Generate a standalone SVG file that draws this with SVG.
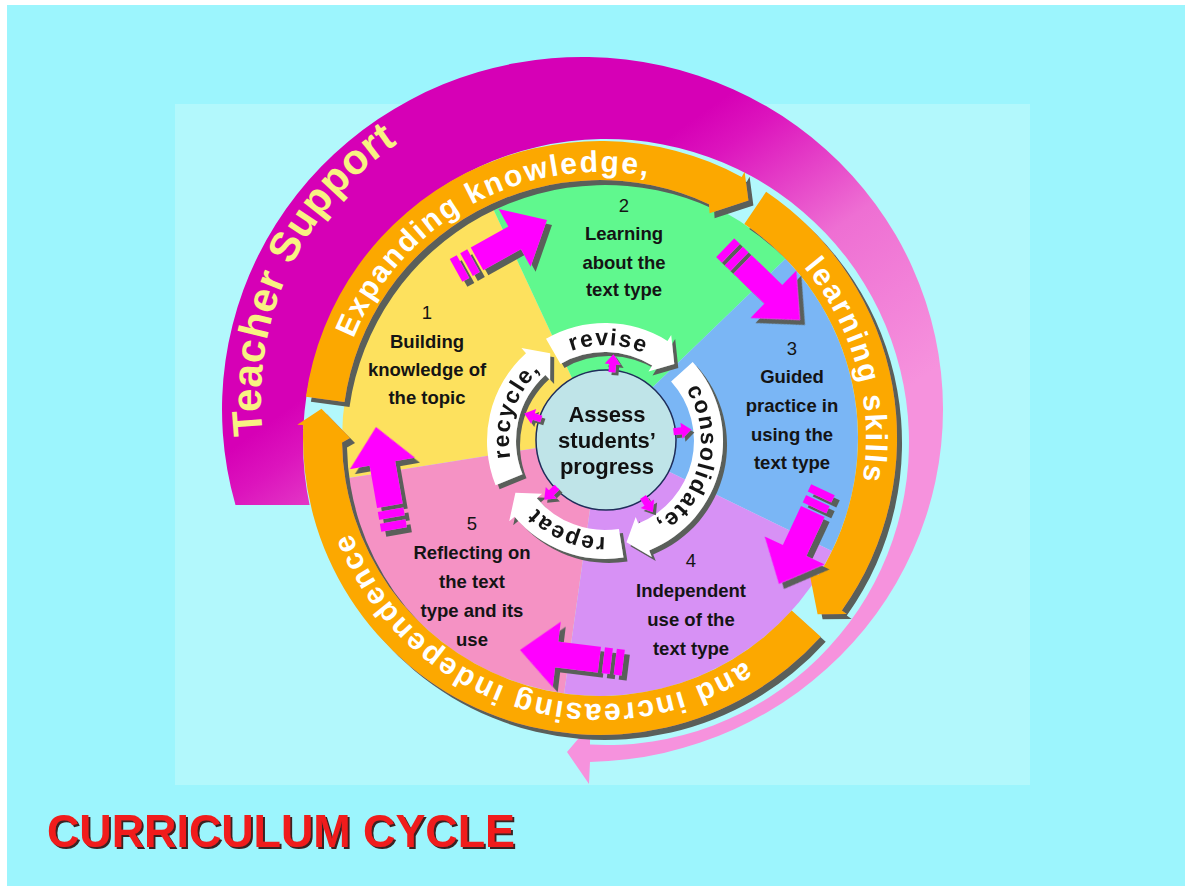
<svg xmlns="http://www.w3.org/2000/svg" width="1185" height="886" viewBox="0 0 1185 886">
  <defs>
    <style>
      .lbl{font-family:"Liberation Sans",Arial,sans-serif;font-weight:bold;font-size:18.5px;fill:#141414;text-anchor:middle}
      .num{font-weight:normal}
      .ring-txt{font-family:"Liberation Sans",Arial,sans-serif;font-weight:bold;font-size:30px;letter-spacing:2px;fill:#ffffff}
      .rev-txt{font-family:"Liberation Sans",Arial,sans-serif;font-weight:bold;font-size:23px;letter-spacing:1.5px;fill:#151515}
      .ctr-txt{font-family:"Liberation Sans",Arial,sans-serif;font-weight:bold;font-size:22px;fill:#111;text-anchor:middle}
      .orange{fill:#fca800}
      .mag{fill:#ff00ff}
      .white{fill:#ffffff}
    </style>
    <linearGradient id="tsGrad" gradientUnits="userSpaceOnUse" x1="720" y1="100" x2="920" y2="380">
      <stop offset="0" stop-color="#d600b6"/>
      <stop offset="0.12" stop-color="#dc14bd"/>
      <stop offset="0.5" stop-color="#ee6fd3"/>
      <stop offset="1" stop-color="#f692dd"/>
    </linearGradient>
    <filter id="sh5" x="-5%" y="-5%" width="115%" height="115%">
      <feFlood flood-color="#5a5f5a"/>
      <feComposite in2="SourceAlpha" operator="in"/>
      <feOffset dx="5" dy="5" result="s"/>
      <feMerge><feMergeNode in="s"/><feMergeNode in="SourceGraphic"/></feMerge>
    </filter>
    <filter id="sh4" x="-5%" y="-5%" width="115%" height="115%">
      <feFlood flood-color="#5a5f5a"/>
      <feComposite in2="SourceAlpha" operator="in"/>
      <feOffset dx="4" dy="4" result="s"/>
      <feMerge><feMergeNode in="s"/><feMergeNode in="SourceGraphic"/></feMerge>
    </filter>
    <filter id="sh3" x="-10%" y="-10%" width="125%" height="125%">
      <feFlood flood-color="#5a5f5a"/>
      <feComposite in2="SourceAlpha" operator="in"/>
      <feOffset dx="3" dy="3" result="s"/>
      <feMerge><feMergeNode in="s"/><feMergeNode in="SourceGraphic"/></feMerge>
    </filter>
    <filter id="titleSh" x="-5%" y="-20%" width="110%" height="150%">
      <feFlood flood-color="#3a2222"/>
      <feComposite in2="SourceAlpha" operator="in"/>
      <feOffset dx="2" dy="2" result="s"/>
      <feMerge><feMergeNode in="s"/><feMergeNode in="SourceGraphic"/></feMerge>
    </filter>
    <!-- big stage-to-stage arrow, pointing along +x, tip at origin -->
    <g id="bigArrow">
      <rect x="-104" y="-13" width="8" height="26"/>
      <rect x="-92" y="-13" width="8" height="26"/>
      <path d="M-80,-13 H-37 V-33 L0,0 L-37,33 V13 H-80 Z"/>
    </g>
    <!-- small outward arrow from the assessment hub -->
    <path id="tick" d="M0,-3.5 H8 V-8 L18,0 L8,8 V3.5 H0 Z"/>
    <!-- text baselines -->
    <path id="pT" d="M263.0,435.0 A309,309 0 0 1 464.3,109.6"/>
    <path id="pE" d="M353.4,338.4 A266,266 0 0 1 733.0,207.6"/>
    <path id="pL" d="M803.8,267.0 A266,266 0 0 1 850.0,529.0"/>
    <path id="pI" d="M744.9,661.1 A266,266 0 0 1 338.0,484.2"/>
    <path id="tR" d="M523.6,390.1 A96,96 0 0 1 689.8,395.9"/>
    <path id="tC" d="M670.5,370.8 A96,96 0 0 1 633.1,532.8"/>
    <path id="tP" d="M662.8,517.7 A96,96 0 0 1 509.7,452.7"/>
    <path id="tY" d="M532.5,504.0 A96,96 0 0 1 586.7,346.8"/>
  </defs>

  <!-- backdrop -->
  <rect width="1185" height="886" fill="#ffffff"/>
  <rect x="7" y="5" width="1178" height="881" fill="#9cf5fd"/>
  <rect x="175" y="104" width="855" height="681" fill="#b2f8fc"/>

  <!-- outer sweeping support arrow -->
  <g id="teacher-support">
    <path fill="url(#tsGrad)" d="M235.5,505 A360.5,352.5 0 1 1 590,761.9 L589,784 L567,752 L590,725 L590,744.6 A303,303 0 1 0 309.6,505 Z"/>
    <text font-family="'Comic Sans MS','Liberation Sans',sans-serif" font-size="42" font-weight="bold" fill="#f8f282" letter-spacing="0.5"><textPath href="#pT">Teacher Support</textPath></text>
  </g>

  <!-- the five stages -->
  <g id="stage-1">
    <path d="M600,438 L345.2,478.4 A258,258 0 0 1 491.0,204.2 Z" fill="#fde15e"/>
    <text class="lbl num" x="427" y="319">1</text>
    <text class="lbl" x="427" y="348">Building</text>
    <text class="lbl" x="427" y="376">knowledge of</text>
    <text class="lbl" x="427" y="404">the topic</text>
  </g>
  <g id="stage-2">
    <path d="M600,438 L491.0,204.2 A258,258 0 0 1 785.6,258.8 Z" fill="#60f88e"/>
    <text class="lbl num" x="624" y="212">2</text>
    <text class="lbl" x="624" y="240">Learning</text>
    <text class="lbl" x="624" y="269">about the</text>
    <text class="lbl" x="624" y="296">text type</text>
  </g>
  <g id="stage-3">
    <path d="M600,438 L785.6,258.8 A258,258 0 0 1 831.9,551.1 Z" fill="#7ab6f5"/>
    <text class="lbl num" x="792" y="355">3</text>
    <text class="lbl" x="792" y="383">Guided</text>
    <text class="lbl" x="792" y="412">practice in</text>
    <text class="lbl" x="792" y="441">using the</text>
    <text class="lbl" x="792" y="469">text type</text>
  </g>
  <g id="stage-4">
    <path d="M600,438 L831.9,551.1 A258,258 0 0 1 564.1,693.5 Z" fill="#d791f5"/>
    <text class="lbl num" x="691" y="567">4</text>
    <text class="lbl" x="691" y="597">Independent</text>
    <text class="lbl" x="691" y="626">use of the</text>
    <text class="lbl" x="691" y="655">text type</text>
  </g>
  <g id="stage-5">
    <path d="M600,438 L564.1,693.5 A258,258 0 0 1 345.2,478.4 Z" fill="#f592c4"/>
    <text class="lbl num" x="472" y="530">5</text>
    <text class="lbl" x="472" y="559">Reflecting on</text>
    <text class="lbl" x="472" y="588">the text</text>
    <text class="lbl" x="472" y="617">type and its</text>
    <text class="lbl" x="472" y="646">use</text>
  </g>

  <!-- orange skills ring -->
  <g id="skills-ring">
    <g class="orange" filter="url(#sh5)">
      <path d="M305.9,396.7 A297,297 0 0 1 741.7,177.0 L744.6,171.7 L748.4,200.5 L709.6,213.3 L709.0,204.2 A258,258 0 0 0 344.5,402.1 Z"/>
      <path d="M766.1,191.8 A297,297 0 0 1 841.8,610.5 L846.7,614.0 L817.6,614.2 L809.7,574.2 L818.8,574.7 A258,258 0 0 0 744.3,224.1 Z"/>
      <path d="M820.7,636.7 A297,297 0 0 1 303.3,425.0 L297.3,424.8 L321.5,408.7 L350,438 L342.0,442.5 A258,258 0 0 0 791.7,610.6 Z"/>
    </g>
    <text class="ring-txt"><textPath href="#pE">Expanding knowledge,</textPath></text>
    <text class="ring-txt"><textPath href="#pL">learning skills</textPath></text>
    <text class="ring-txt"><textPath href="#pI">and increasing independence</textPath></text>
  </g>

  <!-- stage-to-stage arrows -->
  <g id="connectors" class="mag" filter="url(#sh5)">
    <use href="#bigArrow" transform="translate(547,220) rotate(-29)"/>
    <use href="#bigArrow" transform="translate(800,320) rotate(44)"/>
    <use href="#bigArrow" transform="translate(779,584) rotate(115)"/>
    <use href="#bigArrow" transform="translate(520,650) rotate(187)"/>
    <use href="#bigArrow" transform="translate(376,427) rotate(-100)"/>
  </g>

  <!-- inner review loop -->
  <g id="review-loop">
    <g class="white" filter="url(#sh4)">
      <path d="M495.6,485.2 A118,118 0 0 1 526.0,353.3 L521.4,348.1 L550.2,353.2 L550.1,380.1 L545.4,374.9 A89,89 0 0 0 522.5,474.3 Z"/>
      <path d="M546.0,338.8 A118,118 0 0 1 667.5,340.9 L671.2,335.0 L674.3,364.1 L648.5,371.5 L652.2,365.5 A89,89 0 0 0 560.5,363.9 Z"/>
      <path d="M692.7,362.0 A118,118 0 0 1 649.2,550.4 L651.8,556.9 L626.5,542.2 L635.7,517.0 L638.3,523.5 A89,89 0 0 0 671.1,381.4 Z"/>
      <path d="M623.5,557.5 A118,118 0 0 1 514.6,516.8 L509.2,521.3 L515.4,492.8 L542.2,493.7 L536.8,498.2 A89,89 0 0 0 618.9,528.9 Z"/>
    </g>
    <text class="rev-txt" text-anchor="middle"><textPath href="#tR" startOffset="50%">revise</textPath></text>
    <text class="rev-txt" text-anchor="middle"><textPath href="#tC" startOffset="50%">consolidate,</textPath></text>
    <text class="rev-txt" text-anchor="middle"><textPath href="#tP" startOffset="50%">repeat</textPath></text>
    <text class="rev-txt" text-anchor="middle"><textPath href="#tY" startOffset="50%">recycle,</textPath></text>
  </g>

  <!-- assessment hub -->
  <g id="assess">
    <circle cx="606" cy="440" r="70" fill="#bfe4e8" stroke="#1f2d5a" stroke-width="1.5"/>
    <text class="ctr-txt" x="607" y="422">Assess</text>
    <text class="ctr-txt" x="607" y="448">students’</text>
    <text class="ctr-txt" x="607" y="474">progress</text>
    <g class="mag" filter="url(#sh3)">
      <use href="#tick" transform="translate(606,440) rotate(275) translate(68,0)"/>
      <use href="#tick" transform="translate(606,440) rotate(353) translate(68,0)"/>
      <use href="#tick" transform="translate(606,440) rotate(57) translate(68,0)"/>
      <use href="#tick" transform="translate(606,440) rotate(136) translate(68,0)"/>
      <use href="#tick" transform="translate(606,440) rotate(198) translate(68,0)"/>
    </g>
  </g>

  <!-- caption -->
  <text id="title" x="47" y="847" textLength="468" lengthAdjust="spacingAndGlyphs" font-family="'Comic Sans MS','Liberation Sans',sans-serif" font-size="46" font-weight="bold" fill="#f01c1c" filter="url(#titleSh)">CURRICULUM CYCLE</text>
</svg>
